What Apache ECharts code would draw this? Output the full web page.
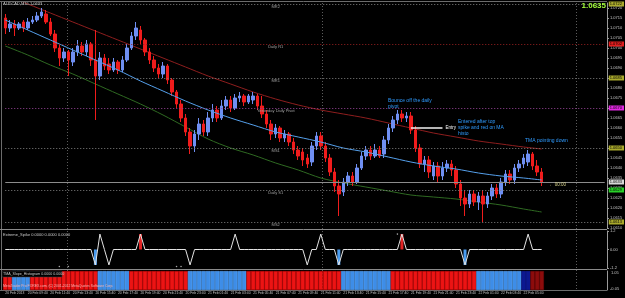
<!DOCTYPE html>
<html>
<head>
<meta charset="utf-8">
<script src="https://cdn.jsdelivr.net/npm/echarts@6/dist/echarts.min.js"></script>
<style>
html,body{margin:0;padding:0;background:#000;overflow:hidden}
#chart{width:625px;height:298px}
</style>
</head>
<body>
<div id="chart"></div>
<script>
// ================= DATA =================
const openP = [
1.0715,1.0710,1.0712,1.0710,1.0713,1.0710,1.0713,1.0714,1.0716,1.0717,
1.0713,1.0707,1.0700,1.0695,1.0698,1.0693,1.0698,1.0701,1.0698,1.0702,
1.0694,1.0686,1.0695,1.0692,1.0689,1.0693,1.0689,1.0694,1.0700,1.0706,
1.0709,1.0704,1.0698,1.0694,1.0690,1.0687,1.0691,1.0684,1.0678,1.0672,
1.0665,1.0658,1.0651,1.0657,1.0662,1.0658,1.0665,1.0669,1.0665,1.0671,
1.0674,1.0670,1.0675,1.0676,1.0673,1.0674,1.0676,1.0671,1.0667,1.0662,
1.0657,1.0660,1.0655,1.0657,1.0653,1.0649,1.0648,1.0645,1.0643,1.0651,
1.0656,1.0651,1.0645,1.0638,1.0631,1.0628,1.0633,1.0636,1.0633,1.0640,
1.0646,1.0649,1.0646,1.0649,1.0647,1.0654,1.0660,1.0664,1.0667,1.0665,
1.0666,1.0659,1.0650,1.0642,1.0644,1.0636,1.0641,1.0636,1.0640,1.0642,
1.0639,1.0632,1.0625,1.0622,1.0627,1.0623,1.0626,1.0622,1.0626,1.0630,
1.0627,1.0633,1.0637,1.0634,1.0640,1.0642,1.0643,1.0647,1.0641,1.0638];
const closeP = [
1.0710,1.0712,1.0710,1.0712,1.0710,1.0713,1.0714,1.0716,1.0718,1.0713,
1.0707,1.0700,1.0695,1.0698,1.0694,1.0698,1.0701,1.0698,1.0702,1.0694,
1.0686,1.0695,1.0691,1.0689,1.0693,1.0689,1.0694,1.0700,1.0706,1.0710,
1.0704,1.0698,1.0694,1.0690,1.0687,1.0691,1.0684,1.0678,1.0672,1.0665,
1.0658,1.0651,1.0657,1.0662,1.0658,1.0665,1.0669,1.0665,1.0671,1.0674,
1.0670,1.0675,1.0676,1.0673,1.0676,1.0676,1.0671,1.0667,1.0662,1.0657,
1.0660,1.0655,1.0657,1.0653,1.0649,1.0646,1.0644,1.0642,1.0651,1.0656,
1.0651,1.0645,1.0638,1.0631,1.0627,1.0633,1.0636,1.0633,1.0640,1.0646,
1.0649,1.0646,1.0649,1.0646,1.0654,1.0660,1.0664,1.0667,1.0665,1.0666,
1.0659,1.0650,1.0642,1.0644,1.0638,1.0641,1.0636,1.0640,1.0642,1.0639,
1.0632,1.0625,1.0622,1.0627,1.0623,1.0626,1.0622,1.0626,1.0630,1.0627,
1.0633,1.0637,1.0634,1.0640,1.0642,1.0645,1.0647,1.0641,1.0638,1.0633];
const lowP = [
1.0707,1.0708,1.0706,1.0709,1.0708,1.0709,1.0712,1.0713,1.0715,1.0712,
1.0706,1.0698,1.0691,1.0693,1.0686,1.0691,1.0696,1.0696,1.0696,1.0691,
1.0664,1.0684,1.0689,1.0687,1.0688,1.0687,1.0688,1.0693,1.0699,1.0704,
1.0702,1.0696,1.0692,1.0688,1.0685,1.0685,1.0682,1.0676,1.0670,1.0663,
1.0656,1.0647,1.0648,1.0654,1.0656,1.0656,1.0663,1.0663,1.0664,1.0669,
1.0668,1.0669,1.0673,1.0671,1.0672,1.0672,1.0669,1.0665,1.0660,1.0654,
1.0655,1.0653,1.0653,1.0651,1.0647,1.0644,1.0641,1.0640,1.0641,1.0649,
1.0649,1.0643,1.0636,1.0628,1.0616,1.0626,1.0631,1.0631,1.0632,1.0639,
1.0644,1.0644,1.0645,1.0645,1.0645,1.0652,1.0658,1.0662,1.0663,1.0663,
1.0657,1.0648,1.0640,1.0638,1.0635,1.0634,1.0633,1.0634,1.0638,1.0636,
1.0630,1.0621,1.0616,1.0620,1.0621,1.0619,1.0613,1.0620,1.0624,1.0625,
1.0625,1.0631,1.0632,1.0632,1.0638,1.0640,1.0641,1.0639,1.0636,1.0631];
const highP = [
1.0717,1.0714,1.0714,1.0713,1.0714,1.0715,1.0716,1.0718,1.0720,1.0719,
1.0715,1.0709,1.0702,1.0700,1.0699,1.0700,1.0704,1.0703,1.0704,1.0703,
1.0709,1.0698,1.0697,1.0695,1.0695,1.0694,1.0696,1.0702,1.0708,1.0713,
1.0711,1.0705,1.0700,1.0696,1.0692,1.0693,1.0692,1.0685,1.0679,1.0674,
1.0667,1.0660,1.0659,1.0665,1.0664,1.0668,1.0672,1.0671,1.0674,1.0676,
1.0676,1.0677,1.0678,1.0677,1.0677,1.0678,1.0677,1.0676,1.0669,1.0664,
1.0662,1.0661,1.0659,1.0658,1.0655,1.0651,1.0650,1.0647,1.0653,1.0658,
1.0658,1.0653,1.0647,1.0640,1.0634,1.0635,1.0638,1.0638,1.0642,1.0648,
1.0651,1.0651,1.0652,1.0651,1.0656,1.0662,1.0666,1.0669,1.0669,1.0668,
1.0668,1.0661,1.0652,1.0646,1.0646,1.0643,1.0643,1.0643,1.0644,1.0644,
1.0641,1.0634,1.0629,1.0629,1.0629,1.0628,1.0629,1.0628,1.0632,1.0632,
1.0635,1.0639,1.0639,1.0642,1.0644,1.0647,1.0649,1.0648,1.0644,1.0640];

// moving averages read at every 5th bar
const maIdx   = [0,5,10,15,20,25,30,35,40,45,50,55,60,65,70,75,80,85,90,95,100,105,110,115,119];
const maBlue  = [1.07140,1.07090,1.07040,1.06990,1.06940,1.06890,1.06835,1.06785,1.06735,1.06690,1.06650,1.06615,1.06580,1.06555,1.06530,1.06500,1.06480,1.06455,1.06430,1.06410,1.06395,1.06375,1.06360,1.06350,1.06340];
const maRed   = [1.07265,1.07220,1.07175,1.07130,1.07085,1.07040,1.06995,1.06950,1.06905,1.06860,1.06820,1.06780,1.06745,1.06715,1.06690,1.06670,1.06650,1.06625,1.06600,1.06575,1.06555,1.06535,1.06520,1.06505,1.06495];
const maGreen = [1.07010,1.06965,1.06915,1.06870,1.06820,1.06770,1.06720,1.06665,1.06605,1.06545,1.06500,1.06465,1.06425,1.06390,1.06350,1.06325,1.06305,1.06285,1.06265,1.06255,1.06245,1.06230,1.06215,1.06195,1.06180];

// pivot levels
const pivotNames  = ['MR2','Daily R1','MR1','Yesterday Daily Pivot','MS1','Daily S1','MS2'];
const pivotLevels = [1.0722,1.0702,1.0685,1.0670,1.0650,1.0629,1.0613];
const entryPrice = 1.0660;
const entryFrom = 90, entryTo = 97;

// Extreme spike indicator
const spikeIdx  = [20,21,23,30,41,51,67,70,74,88,102,116];
const spikeVal  = [-1,1,-1,1,-1,1,-1,1,-1,1,-1,1];
const spikeKind = ['blue','white','white','red','white','white','white','white','blue','red','blue','white'];
const dotIdx = [12,14,38,39,87];
const dotVal = [-1.1,-1.1,-1.1,-1.1,1.0];

// TMA slope histogram state per bar
const slope = [
-1,-1, 1,1,1,1,
-1,-1,-1,-1,-1,-1,-1,-1,-1,-1,-1,-1,-1,-1,-1,
1,1,1,1,1,1,1,
-1,-1,-1,-1,-1,-1,-1,-1,-1,-1,-1,-1,-1,
1,1,1,1,1,1,1,1,1,1,1,1,1,
-1,-1,-1,-1,-1,-1,-1,-1,-1,-1,-1,-1,-1,-1,-1,-1,-1,-1,-1,-1,-1,
1,1,1,1,1,1,1,1,1,1,1,
-1,-1,-1,-1,-1,-1,-1,-1,-1,-1,-1,-1,-1,-1,-1,-1,-1,-1,-1,
1,1,1,1,1,1,1,1,1,1,
0.3,0.3,
-0.3,-0.3,-0.3];

const timeLabels = ['20 Feb 2013','20 Feb 09:40','20 Feb 11:40','20 Feb 13:40','20 Feb 15:40','20 Feb 17:40',
'20 Feb 19:40','20 Feb 21:40','20 Feb 23:40','21 Feb 01:40','21 Feb 03:40','21 Feb 05:40','21 Feb 07:40',
'21 Feb 09:40','21 Feb 11:40','21 Feb 13:40','21 Feb 15:40','21 Feb 17:40','21 Feb 19:40','21 Feb 21:40',
'21 Feb 23:40','22 Feb 01:40','22 Feb 03:40','22 Feb 05:40'];

// ================= CHART =================
const FONT = '"Liberation Sans", Arial, sans-serif';
const AX = '#c4c4c4';
const N = openP.length;
const nCat = N + 14;
const cats = Array.from({length:nCat}, (_, i) => String(i));
const tickAt = {};
timeLabels.forEach((t, k) => { tickAt[k * 5] = t; });

const candles = openP.map((o, i) => [o, closeP[i], lowP[i], highP[i]]);
const spikeLine = openP.map(() => 0);
spikeIdx.forEach((ix, k) => { spikeLine[ix] = spikeVal[k]; });
const spikeFill = [];
spikeIdx.forEach((ix, k) => {
  if (spikeKind[k] !== 'white') spikeFill.push({value:[ix, spikeVal[k]], itemStyle:{color: spikeKind[k] === 'blue' ? '#4a9cf0' : '#e02424'}});
});
function slopeColor(v){ return v >= 0.5 ? '#3d8de8' : v > 0 ? '#0c1890' : v <= -0.5 ? '#ec1414' : '#8c0c0c'; }
function slopeBorder(v){ return v >= 0.5 ? '#5aa4f4' : v > 0 ? '#101c9c' : v <= -0.5 ? '#c80c0c' : '#780808'; }
const histData = slope.map(v => ({value:1, itemStyle:{color:slopeColor(v), borderColor:slopeBorder(v), borderWidth:0.6}}));

const levelStyle = [
  {line:'#808080', box:'#a9a92c'},
  {line:'#9a2020', box:'#e01e1e'},
  {line:'#808080', box:'#a9a92c'},
  {line:'#9a449a', box:'#e028e0'},
  {line:'#808080', box:'#a9a92c'},
  {line:'#808080', box:'#28d028'},
  {line:'#808080', box:'#a9a92c'}
];
const lastCat = nCat - 1;
function hLine(v, color, dash, box, width){
  return [
    {coord:[0, v], lineStyle:{color:color, type:dash, width:width||1},
     label:{show:true, position:'end', distance:4, formatter: v.toFixed(4), backgroundColor:box,
            color:'#000', fontSize:4, fontFamily:FONT, padding:[1,2,0,1]}},
    {coord:[lastCat, v]}
  ];
}
const levelLines = pivotLevels.map((v, k) => hLine(v, levelStyle[k].line, [1,2], levelStyle[k].box));
const lastClose = closeP[N - 1];
levelLines.push(hLine(lastClose, '#8c8c8c', 'solid', '#d8d8d8'));
levelLines.push([
  {coord:[entryFrom, entryPrice], lineStyle:{color:'#f2f2f2', type:'solid', width:1.5},
   label:{show:true, position:'end', distance:3, formatter:'Entry', color:'#ffffff', fontSize:4.5, fontFamily:FONT}},
  {coord:[entryTo, entryPrice]}
]);

function xAx(grid, labels){
  return {type:'category', gridIndex:grid, data:cats, boundaryGap:true,
    axisLine:{show:false}, axisTick:{show:false}, splitLine:{show:false},
    axisLabel: labels ? {show:true, interval:0, hideOverlap:false, formatter:(v, i) => tickAt[i] || '',
      fontSize:3.4, color:AX, fontFamily:FONT, align:'left', margin:2} : {show:false}};
}

const gLine = (x1,y1,x2,y2,stroke,dash,z) => ({type:'line', silent:true, z:z||1,
  shape:{x1,y1,x2,y2}, style:{stroke, lineWidth:1, lineDash:dash||null}});
const gText = (x,y,text,fill,size,align,extra) => ({type:'text', silent:true, z:100, x, y,
  style:Object.assign({text, fill, fontSize:size, fontFamily:FONT, textAlign:align||'left', textVerticalAlign:'middle'}, extra||{})});

const graphics = [
  gLine(67.5,3,67.5,290,'#5c5c5c',[1,2]),
  gLine(322.5,3,322.5,290,'#5c5c5c',[1,2]),
  gLine(576.5,3,576.5,290,'#5c5c5c',[1,2]),
  gLine(0,1.5,607,1.5,'#6c6c6c'),
  gLine(1.5,1,1.5,290,'#6c6c6c'),
  gLine(0,229.5,607,229.5,'#8a8a8a'),
  gLine(0,269.5,607,269.5,'#8a8a8a'),
  gLine(0,290.5,607,290.5,'#6c6c6c'),
  gText(3,4,'AUDCAD,M15 1.0633','#cfcfcf',4),
  gText(606,6,'1.0635','#a4ff3c',8,'right',{fontWeight:'bold'}),
  gText(388,101,'Bounce off the daily','#2f9bff',5),
  gText(388,107,'pivot','#2f9bff',5),
  gText(458,122,'Entered after top','#2f9bff',5),
  gText(458,128,'spike and red on MA','#2f9bff',5),
  gText(458,134,'histo','#2f9bff',5),
  gText(525,141,'TMA pointing down','#2f9bff',5),
  gText(549,185,'\u2190 00:00','#d6d28c',4.5),
  gText(3,235,'Extreme_Spike 0.0000 0.0000 0.0000','#c8c8c8',4),
  {type:'rect', silent:true, z:99, shape:{x:2,y:271,width:60,height:6}, style:{fill:'#000', stroke:'#444', lineWidth:0.5}},
  gText(3,274,'TMA_Slope_Histogram 0.0000 0.0000','#c8c8c8',3.6),
  gText(3,286,'MetaTrader Pro FOREX.com, (C) 2001-2012 MetaQuotes Software Corp.','#f6b4b4',3.4),
  gText(611,273,'1.05',AX,4),
  gText(610,289,'-0.05',AX,4)
];

const option = {
  backgroundColor:'#000',
  animation:false,
  grid:[
    {left:3, top:3, width:604, height:225, outerBoundsMode:'none'},
    {left:3, top:231, width:604, height:37, outerBoundsMode:'none'},
    {left:3, top:271, width:604, height:19, outerBoundsMode:'none'}
  ],
  xAxis:[xAx(0,false), xAx(1,false), xAx(2,true)],
  yAxis:[
    {type:'value', gridIndex:0, position:'right', min:1.0610, max:1.07225, interval:0.0005,
      axisLine:{show:true, lineStyle:{color:'#9a9a9a'}}, axisTick:{show:true, length:2, lineStyle:{color:'#9a9a9a'}},
      splitLine:{show:false},
      axisLabel:{show:true, showMaxLabel:false, hideOverlap:false, fontSize:4, color:AX, fontFamily:FONT, margin:3, formatter:v => v.toFixed(4)}},
    {type:'value', gridIndex:1, position:'right', min:-1.2, max:1.2, interval:1.2,
      axisLine:{show:true, lineStyle:{color:'#9a9a9a'}}, axisTick:{show:true, length:2, lineStyle:{color:'#9a9a9a'}},
      splitLine:{show:false},
      axisLabel:{show:true, hideOverlap:false, fontSize:4, color:AX, fontFamily:FONT, margin:3, formatter:v => v === 0 ? '0.00' : v.toFixed(1)}},
    {type:'value', gridIndex:2, position:'right', min:0, max:1,
      axisLine:{show:true, lineStyle:{color:'#9a9a9a'}}, axisTick:{show:false}, splitLine:{show:false}, axisLabel:{show:false}}
  ],
  graphic:{elements:graphics},
  series:[
    {type:'line', xAxisIndex:0, yAxisIndex:0, data:maIdx.map((x,k)=>[x, maGreen[k]]), smooth:0.3, showSymbol:false, silent:true,
      lineStyle:{color:'#2f6a22', width:1}, z:2},
    {type:'line', xAxisIndex:0, yAxisIndex:0, data:maIdx.map((x,k)=>[x, maRed[k]]), smooth:0.3, showSymbol:false, silent:true,
      lineStyle:{color:'#8e1e1e', width:1}, z:2},
    {type:'candlestick', xAxisIndex:0, yAxisIndex:0, data:candles, barWidth:3, silent:true, z:3,
      itemStyle:{color:'#6f8ff2', color0:'#f01c1c', borderColor:'#6f8ff2', borderColor0:'#f01c1c', borderWidth:1},
      markPoint:{silent:true, symbol:'circle', symbolSize:0.01, animation:false, itemStyle:{color:'rgba(0,0,0,0)'},
        label:{show:true, position:'bottom', distance:1, color:'#a0a0a0', fontSize:4, fontFamily:FONT, formatter:p => p.name},
        data:pivotLevels.map((v,k)=>({name:pivotNames[k], coord:[60, v]}))}
    },
    {type:'line', xAxisIndex:0, yAxisIndex:0, data:maIdx.map((x,k)=>[x, maBlue[k]]), smooth:0.3, showSymbol:false, silent:true,
      lineStyle:{color:'#55a0ec', width:1}, z:4,
      markLine:{silent:true, symbol:['none','none'], animation:false, data:levelLines}},
    {type:'bar', xAxisIndex:1, yAxisIndex:1, data:spikeFill, barWidth:3, silent:true, z:2},
    {type:'line', xAxisIndex:1, yAxisIndex:1, data:spikeLine, showSymbol:false, silent:true,
      lineStyle:{color:'#e4e4e4', width:1}, z:3},
    {type:'scatter', xAxisIndex:1, yAxisIndex:1, data:dotIdx.map((x,k)=>[x, dotVal[k]]), symbolSize:1.6, silent:true,
      itemStyle:{color:'#d0d0d0'}, z:3},
    {type:'bar', xAxisIndex:2, yAxisIndex:2, data:histData, barCategoryGap:'0%', silent:true, z:2}
  ]
};
const chart = echarts.init(document.getElementById('chart'));
chart.setOption(option);
</script>
</body>
</html>
